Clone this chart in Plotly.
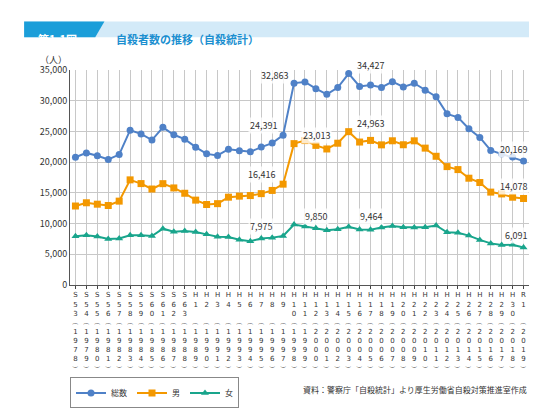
import plotly.graph_objects as go

eras = ["S53", "S54", "S55", "S56", "S57", "S58", "S59", "S60", "S61", "S62", "S63",
        "H1", "H2", "H3", "H4", "H5", "H6", "H7", "H8", "H9", "H10", "H11", "H12",
        "H13", "H14", "H15", "H16", "H17", "H18", "H19", "H20", "H21", "H22", "H23",
        "H24", "H25", "H26", "H27", "H28", "H29", "H30", "R1"]
years = list(range(1978, 2020))

total = [20788, 21503, 21048, 20434, 21228, 25202, 24596, 23599, 25667, 24460, 23742,
         22436, 21346, 21084, 22104, 21851, 21679, 22445, 23104, 24391, 32863, 33048,
         31957, 31042, 32143, 34427, 32325, 32552, 32155, 33093, 32249, 32845, 31690,
         30651, 27858, 27283, 25427, 24025, 21897, 21321, 20840, 20169]
male = [12859, 13386, 13155, 12942, 13654, 17116, 16508, 15624, 16497, 15802, 14934,
        13818, 13102, 13242, 14296, 14468, 14560, 14874, 15393, 16416, 23013, 23512,
        22727, 22144, 23080, 24963, 23272, 23540, 22813, 23478, 22831, 23472, 22283,
        20955, 19273, 18787, 17386, 16681, 15121, 14826, 14290, 14078]
female = [7929, 8117, 7893, 7492, 7574, 8086, 8088, 7975, 9170, 8658, 8808,
          8618, 8244, 7842, 7808, 7383, 7119, 7571, 7711, 7975, 9850, 9536,
          9230, 8898, 9063, 9464, 9053, 9012, 9342, 9615, 9418, 9373, 9407,
          9696, 8585, 8496, 8041, 7344, 6776, 6495, 6550, 6091]


def stack(era, year):
    chars = list(era) + [" "] * (3 - len(era))
    return "<br>".join(chars) + "<br>︵<br>" + "<br>".join(str(year)) + "<br>︶"


ticktext = [stack(e, y) for e, y in zip(eras, years)]
x = list(range(len(years)))

fig = go.Figure()
series = [("総数", total, "#4f81c7", "circle"),
          ("男", male, "#f39800", "square"),
          ("女", female, "#19a58c", "triangle-up")]
for name, vals, col, sym in series:
    fig.add_trace(go.Scatter(x=x, y=vals, name=name, mode="lines+markers",
                             line=dict(color=col, width=2),
                             marker=dict(symbol=sym, size=7, color=col)))

# value callouts: (index, series, xshift, yshift)
callouts = [(19, total, -20, 10), (20, total, -20, 8), (25, total, 22, 8), (41, total, -10, 12),
            (19, male, -22, 10), (20, male, 22, 8), (25, male, 22, 8), (41, male, -10, 12),
            (19, female, -22, 10), (20, female, 22, 8), (25, female, 22, 10), (41, female, -8, 12)]
for i, vals, dx, dy in callouts:
    fig.add_annotation(x=i, y=vals[i], text=f"{vals[i]:,}", showarrow=False,
                       xshift=dx, yshift=dy, font=dict(size=9, color="#333"),
                       bgcolor="rgba(255,255,255,0.8)")

# title bar
fig.add_shape(type="rect", xref="paper", yref="paper", x0=-0.10, x1=1.0, y0=1.152, y1=1.226,
              fillcolor="#d3eaf8", line_width=0)
fig.add_shape(type="path", xref="paper", yref="paper",
              path="M -0.10 1.152 L -0.10 1.226 L 0.075 1.226 L 0.055 1.152 Z",
              fillcolor="#1b9ed9", line_width=0)
fig.add_annotation(xref="paper", yref="paper", x=-0.075, y=1.189, text="<b>第1-1図</b>",
                   showarrow=False, xanchor="left", font=dict(size=11, color="white"))
fig.add_annotation(xref="paper", yref="paper", x=0.095, y=1.189, text="<b>自殺者数の推移（自殺統計）</b>",
                   showarrow=False, xanchor="left", font=dict(size=11, color="#1b8fd0"))
fig.add_annotation(xref="paper", yref="paper", x=-0.07, y=1.09, text="（人）",
                   showarrow=False, font=dict(size=9, color="#333"))
fig.add_annotation(xref="paper", yref="paper", x=1.0, y=-0.45, xanchor="right", yanchor="top",
                   text="資料：警察庁「自殺統計」より厚生労働省自殺対策推進室作成",
                   showarrow=False, font=dict(size=8, color="#333"))

fig.update_layout(
    width=541, height=412, paper_bgcolor="white", plot_bgcolor="white",
    font=dict(family="Noto Sans CJK JP", size=10, color="#333"),
    margin=dict(l=62, r=20, t=62, b=120),
    showlegend=True,
    legend=dict(orientation="h", x=0.0, y=-0.43, xanchor="left", yanchor="top",
                bordercolor="#888", borderwidth=1, font=dict(size=8),
                tracegroupgap=0, itemwidth=30),
    xaxis=dict(tickvals=x, ticktext=ticktext, tickangle=0, range=[-0.5, 41.5],
               showgrid=True, gridcolor="#c8c8c8", gridwidth=1, zeroline=False,
               linecolor="#555", showline=True, ticks="outside", ticklen=3,
               tickfont=dict(size=7, family="DejaVu Sans")),
    yaxis=dict(range=[0, 35000], dtick=5000, tickformat=",", showgrid=True,
               gridcolor="#c8c8c8", zeroline=False, linecolor="#555", showline=True,
               tickfont=dict(size=9)),
)

fig.write_html("out.html")
